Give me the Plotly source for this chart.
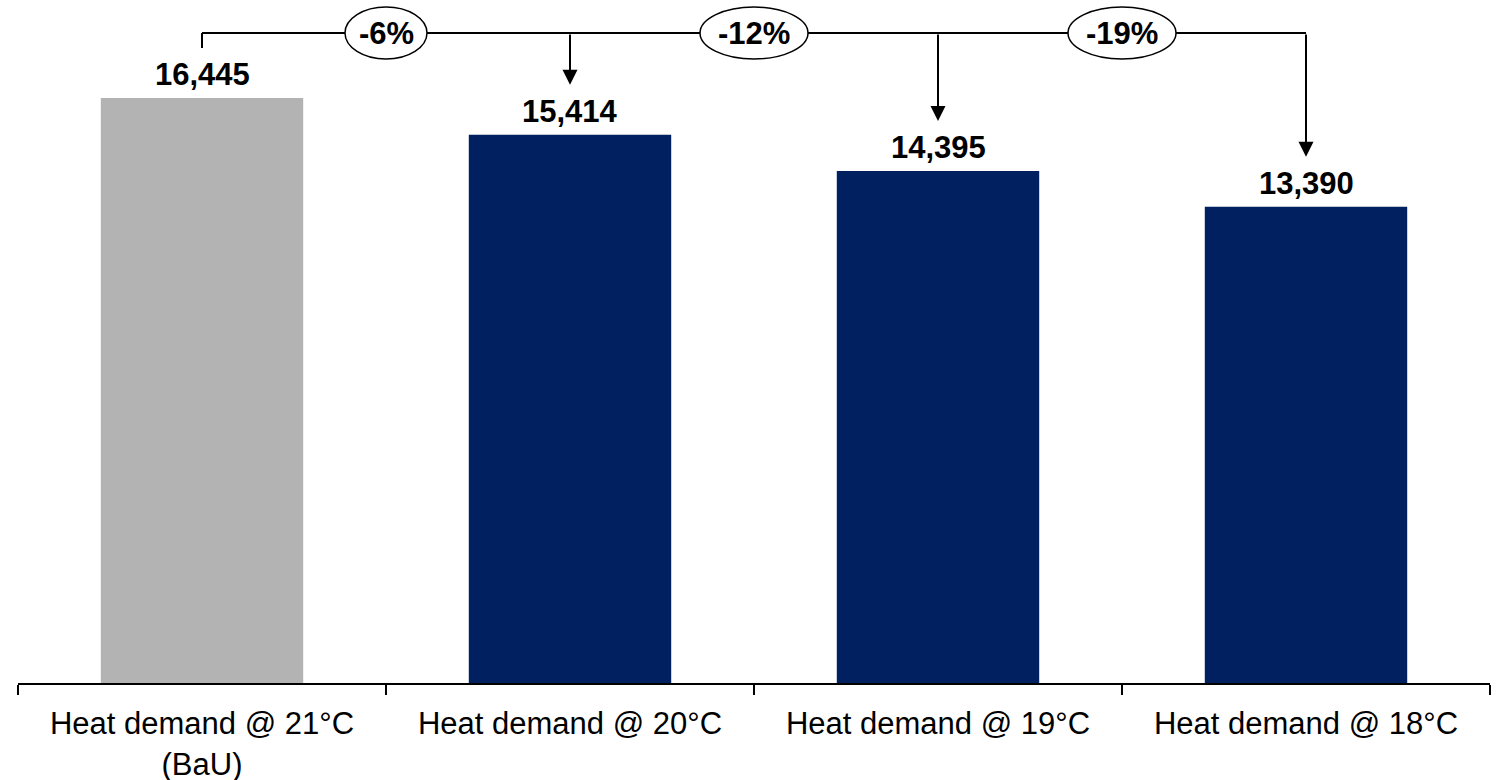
import plotly.graph_objects as go

# Heat demand per indoor set-point temperature
categories = [
    "Heat demand @ 21°C<br>(BaU)",
    "Heat demand @ 20°C",
    "Heat demand @ 19°C",
    "Heat demand @ 18°C",
]
values = [16445, 15414, 14395, 13390]
bar_colors = ["#B3B3B3", "#002060", "#002060", "#002060"]

FONT = "Liberation Sans, Arial, sans-serif"
Y_MAX = 19200
PLOT_H = 683  # pixel height of the plotting area
px = Y_MAX / PLOT_H  # data units per pixel

bracket_y = Y_MAX - 33 * px    # horizontal connector line
gap = 50 * px                  # space between a value label area and arrow tip

fig = go.Figure()
fig.add_trace(go.Bar(
    x=categories,
    y=values,
    width=0.55,
    marker=dict(color=bar_colors, line=dict(width=0)),
    hoverinfo="skip",
))

shapes = []
annotations = []

# value labels above each bar
for i, v in enumerate(values):
    annotations.append(dict(
        x=i, y=v, xref="x", yref="y", text=f"<b>{v:,}</b>",
        showarrow=False, yanchor="bottom", yshift=4,
        font=dict(family=FONT, size=31, color="black"),
    ))

# connector: short drop at the baseline bar, horizontal run, arrows down to others
shapes.append(dict(type="line", xref="x", yref="y", x0=0, x1=0,
                   y0=bracket_y, y1=values[0] + gap,
                   line=dict(color="black", width=2)))
shapes.append(dict(type="line", xref="x", yref="y", x0=0, x1=len(values) - 1,
                   y0=bracket_y, y1=bracket_y,
                   line=dict(color="black", width=2)))
for i, v in enumerate(values[1:], start=1):
    annotations.append(dict(
        x=i, y=v + gap, ax=i, ay=bracket_y, xref="x", yref="y",
        axref="x", ayref="y", text="", showarrow=True,
        arrowhead=2, arrowsize=1.5, arrowwidth=2, arrowcolor="black",
        standoff=0, startstandoff=0,
    ))

# percentage change bubbles between columns
base = values[0]
for i, v in enumerate(values[1:], start=1):
    pct = round((v / base - 1) * 100)
    label = f"{pct}%"
    w_px = 26 * len(label) + 4
    xc = i - 0.5
    half_w = w_px / 2 / 368
    half_h = 26 * px
    shapes.append(dict(type="circle", xref="x", yref="y",
                       x0=xc - half_w, x1=xc + half_w,
                       y0=bracket_y - half_h, y1=bracket_y + half_h,
                       fillcolor="white", line=dict(color="black", width=1.5),
                       layer="above"))
    annotations.append(dict(
        x=xc, y=bracket_y, xref="x", yref="y", text=f"<b>{label}</b>",
        showarrow=False, font=dict(family=FONT, size=31, color="black"),
    ))

fig.update_layout(
    width=1504, height=780,
    margin=dict(l=18, r=14, t=0, b=97, autoexpand=False),
    paper_bgcolor="white", plot_bgcolor="white",
    showlegend=False,
    shapes=shapes,
    annotations=annotations,
    font=dict(family=FONT, color="black"),
    xaxis=dict(
        type="category",
        range=[-0.5, len(categories) - 0.5],
        showline=True, linecolor="black", linewidth=2,
        ticks="outside", ticklen=10, tickwidth=2, tickcolor="black",
        tickson="boundaries",
        ticklabelstandoff=12,
        automargin=False,
        showgrid=False, zeroline=False,
        tickfont=dict(family=FONT, size=31, color="black"),
        fixedrange=True,
    ),
    yaxis=dict(
        range=[0, Y_MAX], visible=False, showgrid=False, zeroline=False,
        fixedrange=True,
    ),
)

fig.write_html("out.html")
